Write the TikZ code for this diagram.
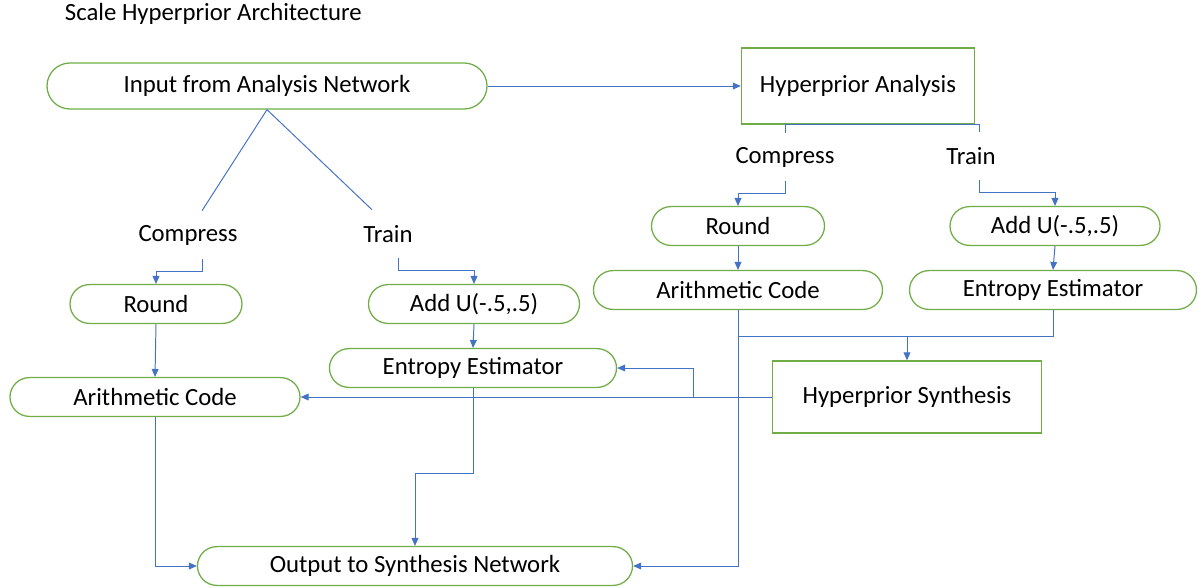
\documentclass[tikz,border=0pt]{standalone}
\usepackage{fontspec}
\setmainfont{Carlito}
\usetikzlibrary{shapes.misc,arrows.meta}

\definecolor{hgreen}{RGB}{112,173,71}
\definecolor{hblue}{RGB}{68,114,196}

\tikzset{
  term/.style={rounded rectangle, draw=hgreen, line width=0.9pt, inner sep=0pt,
    minimum height=0.97cm, minimum width=#1*0.025cm},
  block/.style={rectangle, draw=hgreen, line width=0.9pt, inner sep=0pt},
  lbl/.style={inner sep=0pt, minimum height=1.2cm},
  wire/.style={draw=hblue, line width=0.7pt},
  link/.style={wire, -{Triangle[length=0.2cm,width=0.17cm]}}
}

\begin{document}
\begin{tikzpicture}[x=0.025cm, y=-0.025cm, font=\fontsize{17.6}{20}\selectfont]
    \useasboundingbox (0,0) rectangle (1198,587);

    \node[anchor=west] (title) at (60,14) {Scale Hyperprior Architecture};

    % main branch
    \node[term=440, minimum height=1.15cm] (inp) at (267,86) {Input from Analysis Network};
    \node[lbl] (cmpL) at (188,235) {Compress};
    \node[lbl] (trnL) at (388,234) {Train};
    \node[term=172] (rndL) at (156,304) {Round};
    \node[term=211] (addL) at (474,304) {Add U(-.5,.5)};
    \node[term=287] (entL) at (473,368) {Entropy Estimator};
    \node[term=290] (ariL) at (155,397) {Arithmetic Code};
    \node[term=435] (out) at (415,566) {Output to Synthesis Network};

    % hyperprior branch
    \node[block, minimum width=5.825cm, minimum height=1.9cm] (ha) at (858,86) {Hyperprior Analysis};
    \node[lbl] (cmpR) at (785,157) {Compress};
    \node[lbl] (trnR) at (971,156) {Train};
    \node[term=173] (rndR) at (738,226) {Round};
    \node[term=210] (addR) at (1055,226) {Add U(-.5,.5)};
    \node[term=289] (ariR) at (738,290) {Arithmetic Code};
    \node[term=287] (entR) at (1053,290) {Entropy Estimator};
    \node[block, minimum width=6.725cm, minimum height=1.8cm] (hs) at (907,397) {Hyperprior Synthesis};

    \draw[link] (inp.east) -- (ha.west);
    \draw[wire] (inp.south) -- ([xshift=0.35cm]cmpL.north);
    \draw[wire] (inp.south) -- ([xshift=-0.4cm]trnL.north);
    \draw[link] ([xshift=0.35cm]cmpL.south) -- ++(0,12) -| (rndL.north);
    \draw[link] ([xshift=0.25cm]trnL.south) -- ++(0,12) -| (addL.north);
    \draw[link] (rndL.south) -- (ariL.north);
    \draw[link] (addL.south) -- (entL.north);

    \draw[wire] (cmpR.north) |- (ha.south) -| ([xshift=0.2cm]trnR.north);
    \draw[link] (cmpR.south) -- ++(0,12) -| (rndR.north);
    \draw[link] ([xshift=0.2cm]trnR.south) -- ++(0,12) -| (addR.north);
    \draw[link] (rndR.south) -- (ariR.north);
    \draw[link] (addR.south) -- (entR.north);

    % into the synthesis block
    \draw[wire] (entR.south) -- ++(0,26) coordinate (mrg) -| (ariR.south);
    \draw[link] (hs.north |- mrg) -- (hs.north);
    \draw[link] (hs.west) -- ++(-78,0) |- (entL.east);
    \draw[link] (hs.west) -- (ariL.east);

    % to the output
    \draw[link] (ariR.south) |- (out.east);
    \draw[link] (ariL.south) |- (out.west);
    \draw[link] (entL.south) -- ++(0,85) -| (out.north);
\end{tikzpicture}
\end{document}
